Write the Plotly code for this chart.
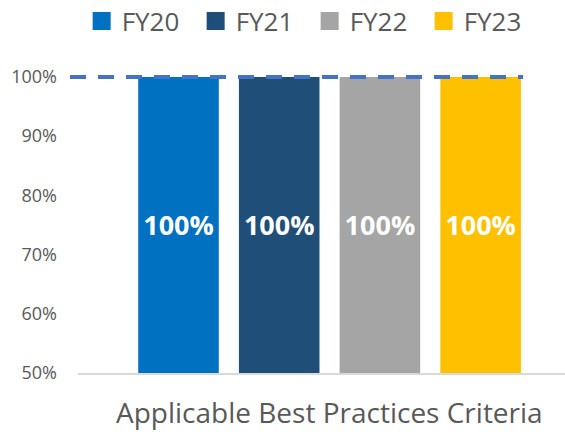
import plotly.graph_objects as go

series = ["FY20", "FY21", "FY22", "FY23"]
values = [1.0, 1.0, 1.0, 1.0]
colors = ["#0070C0", "#1F4E79", "#A5A5A5", "#FFC000"]
target = 1.0
y_min = 0.5
y_ticks = [0.5, 0.6, 0.7, 0.8, 0.9, 1.0]
x_title = "Applicable Best Practices Criteria"

FONT = "Open Sans"
GREY = "#595959"

fig = go.Figure()
fig.add_trace(go.Bar(
    x=series, y=[v - y_min for v in values], base=y_min,
    customdata=values,
    marker=dict(color=colors, line=dict(width=0)),
    width=0.8, showlegend=False,
    texttemplate="<b>%{customdata:.0%}</b>", textposition="inside",
    insidetextanchor="middle", textangle=0,
    textfont=dict(family=FONT, size=27, color="white"),
    hoverinfo="skip",
))
for name, c in zip(series, colors):
    fig.add_trace(go.Scatter(
        x=[None], y=[None], mode="markers", name=name,
        marker=dict(symbol="square", size=16, color=c, line=dict(color=c, width=2)),
    ))

fig.add_shape(type="line", xref="x domain", yref="y",
              x0=-0.0164, x1=0.914, y0=target, y1=target,
              line=dict(color="#4472C4", width=4, dash="16px,12px"), layer="above")

fig.add_annotation(text=x_title, xref="paper", yref="paper", x=0.516, y=-0.129,
                   xanchor="center", yanchor="middle", showarrow=False,
                   font=dict(family=FONT, size=28, color=GREY))

fig.update_layout(
    width=565, height=432,
    margin=dict(l=78, r=0, t=71, b=59),
    paper_bgcolor="white", plot_bgcolor="white",
    font=dict(family=FONT, color=GREY),
    legend=dict(orientation="h", x=0.1445, xref="container", y=0.951, yref="container",
                yanchor="middle", xanchor="left",
                font=dict(family=FONT, size=26, color=GREY),
                entrywidth=69, entrywidthmode="pixels", itemsizing="trace",
                tracegroupgap=0),
    xaxis=dict(range=[-0.998, 3.838], showticklabels=False, showgrid=False,
               zeroline=False, showline=True, linecolor="#D9D9D9", linewidth=2,
               ticks=""),
    yaxis=dict(range=[y_min, 1.01], tickvals=y_ticks, tickformat=".0%",
               showgrid=False, zeroline=False, showline=False, ticks="",
               tickfont=dict(family=FONT, size=18, color=GREY),
               ticklabelstandoff=20),
)

fig.write_html("out.html", config={"displayModeBar": False},
               post_script="document.body.style.margin='0';")
